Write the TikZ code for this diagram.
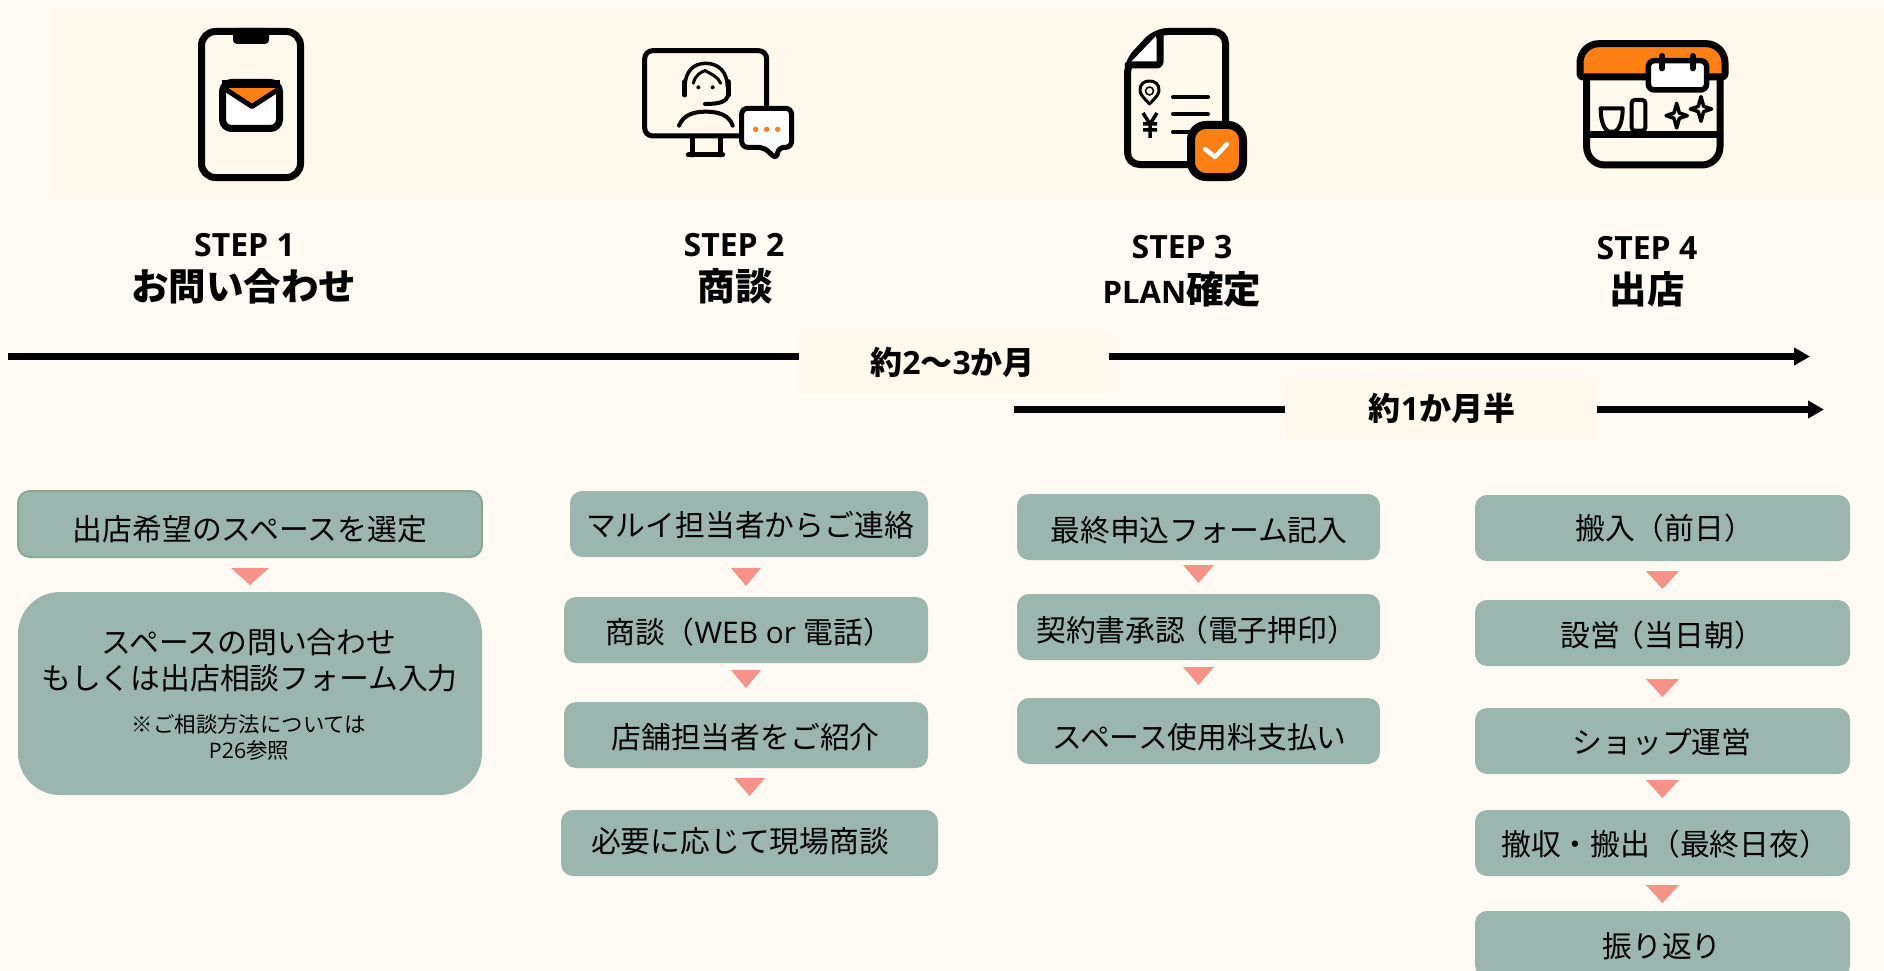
\documentclass[tikz,border=0pt]{standalone}
\usepackage{fontspec}
\setmainfont{Noto Sans CJK JP}
\newfontfamily\oss{Open Sans}
\usetikzlibrary{arrows.meta}
\definecolor{pagebg}{HTML}{FFFBF4}
\definecolor{bandbg}{HTML}{FEF8ED}
\definecolor{boxfill}{HTML}{9BB5AF}
\definecolor{boxedge}{HTML}{85AB90}
\definecolor{tricol}{HTML}{F79288}
\definecolor{orangec}{HTML}{FE8015}
\newcommand{\fs}[1]{\fontsize{#1}{#1}\selectfont}
\newcommand{\tridown}[4]{\fill[tricol] (#1,#3) -- (#2,#3) -- ({(#1+#2)/2},#4) -- cycle;}
\newcommand{\sparkle}[2]{\draw[line width=3.5pt,line join=round,draw=black]
 (#1,#2-37) -- (#1+8,#2-8) -- (#1+32,#2) -- (#1+8,#2+8) -- (#1,#2+37) -- (#1-8,#2+8) -- (#1-32,#2) -- (#1-8,#2-8) -- cycle;}
\tikzset{
 flowbox/.style={fill=boxfill,draw=none,rounded corners=12pt,inner sep=0pt},
 lab/.style={inner sep=0pt,text height=25.9pt,text depth=3.5pt,font=\fs{29.8},black},
 sm/.style={inner sep=0pt,text height=18.8pt,text depth=2.6pt,font=\fs{21.4},black},
 headlat/.style={inner sep=0pt,text height=28.2pt,text depth=3.8pt,font=\fs{32}\bfseries\oss,black},
 headjp/.style={inner sep=0pt,text height=32.6pt,text depth=4.4pt,font=\fs{37.5}\bfseries,black},
 durlab/.style={inner sep=0pt,text height=28.2pt,text depth=3.8pt,font=\fs{32}\bfseries,black},
 durbox/.style={fill=bandbg,draw=none,inner sep=0pt},
 tline/.style={line width=7pt,black},
 tarrow/.style={line width=7pt,black,-{Triangle[length=16pt,width=17pt]}},
 iconl/.style={line width=7pt,black,line cap=round,line join=round},
 mon/.style={line width=5pt,black,line cap=round,line join=round},
}
\begin{document}
\begin{tikzpicture}[x=1pt,y=-1pt]
\clip (0,0) rectangle (1884,971);
\fill[pagebg] (0,0) rectangle (1884,971);
\fill[bandbg] (51,8) rectangle (1884,195);

% ---- phone icon
\draw[iconl,rounded corners=14pt] (201.5,31.5) rectangle (300.5,177.5);
\fill[black,rounded corners=4pt] (233,28) rectangle (269,44);
\draw[iconl,fill=white,rounded corners=9pt] (222.5,82.5) rectangle (279.5,128.5);
\fill[orangec] (226,88) -- (278,88) -- (252,104) -- cycle;
\fill[black] (222,80) rectangle (280,88);
\begin{scope}
\clip (222,82) rectangle (280,125);
\draw[line width=5pt,black,line join=round] (222,87) -- (252,106.5) -- (282,87);
\end{scope}

% ---- monitor icon
\begin{scope}[shift={(630pt,-30pt)},x=0.3333pt,y=-0.3333pt]
\draw[mon,rounded corners=8pt] (44,62) rectangle (410,318);
\draw[mon] (188,320) -- (188,375) (270,320) -- (270,375);
\draw[mon] (175,375) -- (278,375);
\draw[line width=3.5pt,black,line cap=round] (165,170) .. controls (165,125) and (190,100) .. (227,100) .. controls (265,100) and (292,125) .. (292,170);
\draw[mon] (164,155) -- (164,195) (295,155) -- (295,195);
\draw[line width=4pt,black,line cap=round] (295,195) .. controls (290,215) and (270,222) .. (225,222);
\draw[line width=3pt,black,line cap=round] (190,160) .. controls (195,135) and (215,125) .. (225,122) .. controls (240,130) and (265,140) .. (272,160);
\fill[black] (205,172) circle[radius=2pt] (248,172) circle[radius=2pt];
\draw[line width=4pt,black,line cap=round] (147,287) .. controls (160,255) and (190,245) .. (228,245) .. controls (265,245) and (298,255) .. (308,287);
\draw[mon,fill=white,rounded corners=6pt] (335,235) -- (485,235) -- (485,352) -- (445,352) -- (440,388) -- (402,352) -- (335,352) -- cycle;
\fill[orangec] (377,298) circle[radius=2.7pt] (410,298) circle[radius=2.7pt] (443,298) circle[radius=2.7pt];
\end{scope}

% ---- document icon
\draw[iconl,rounded corners=12pt] (1127.5,62) -- (1156,31.5) -- (1225.5,31.5) -- (1225.5,164.5) -- (1127.5,164.5) -- cycle;
\fill[white] (1131,62) -- (1156,36) -- (1156,62) -- cycle;
\draw[iconl,rounded corners=3pt] (1160,33) -- (1160,65) -- (1128,65);
\draw[line width=3pt,black,line join=round] (1149.5,104) .. controls (1142,96) and (1140,94) .. (1140,90) .. controls (1140,84) and (1144,81) .. (1149.5,81) .. controls (1155,81) and (1159,84) .. (1159,90) .. controls (1159,94) and (1157,96) .. (1149.5,104) -- cycle;
\draw[line width=1.5pt,black] (1149.5,91) circle[radius=4pt];
\draw[line width=4pt,black,line cap=round] (1173,97) -- (1208,97) (1173,114) -- (1208,114) (1173,132) -- (1195,132);
\draw[line width=3.5pt,black] (1143,113) -- (1150,124) -- (1157,113) (1150,124) -- (1150,138) (1143,124) -- (1157,124) (1143,130) -- (1157,130);
\draw[iconl,line width=8pt,fill=orangec,rounded corners=15pt] (1191,125) rectangle (1243,177);
\draw[line width=4.5pt,white,line cap=round,line join=round] (1205,149) -- (1215,157) -- (1227,144);

% ---- shop icon
\begin{scope}[shift={(1560pt,-30pt)},x=0.3333pt,y=-0.3333pt]
\draw[iconl,rounded corners=18pt] (80,140) -- (80,405) -- (480,405) -- (480,140);
\draw[iconl] (80,315) -- (480,315);
\draw[iconl,fill=orangec] (60,141) [rounded corners=19pt] -- (60,41) -- (495,41) [rounded corners=3pt] -- (495,141) -- cycle;
\draw[line width=5.5pt,black,fill=white,rounded corners=6pt,line join=round] (265,92) rectangle (440,180);
\draw[line width=6pt,black,line cap=round] (307,78) -- (307,115) (398,78) -- (398,115);
\draw[line width=4pt,black,line join=round] (122,235) -- (188,235) .. controls (188,270) and (180,295) .. (165,305) -- (145,305) .. controls (130,295) and (122,270) .. (122,235) -- cycle;
\draw[line width=4pt,black,rounded corners=3pt] (215,210) rectangle (256,302);
\sparkle{350}{257}
\sparkle{423}{237}
\end{scope}

% ---- step headings
\node[headlat] (s1) at (244.5,244) {STEP 1};
\node[headjp] (s1j) at (243.5,286.5) {お問い合わせ};
\node[headlat] (s2) at (734,244) {STEP 2};
\node[headjp] (s2j) at (735,286.5) {商談};
\node[headlat] (s3) at (1182,246) {STEP 3};
\node[headjp] (s3j) at (1182,289.5) {{\oss\fs{31}PLAN}確定};
\node[headlat] (s4) at (1647,247) {STEP 4};
\node[headjp] (s4j) at (1647,289.5) {出店};

% ---- durations
\coordinate (d1start) at (8,356.5);
\coordinate (d1end) at (1810,356.5);
\coordinate (d2start) at (1014,409.5);
\coordinate (d2end) at (1824,409.5);
\node[durbox,minimum width=309.6pt,minimum height=60pt] (d1box) at (953.8,363) {};
\node[durlab] (d1txt) at (952.7,362) {約{\oss 2}〜{\oss 3}か月};
\node[durbox,minimum width=311.5pt,minimum height=62pt] (d2box) at (1441.3,409) {};
\node[durlab] (d2txt) at (1442,408) {約{\oss 1}か月半};
\draw[tline] (d1start) -- (d1start -| d1box.west);
\draw[tarrow] (d1end -| d1box.east) -- (d1end);
\draw[tline] (d2start) -- (d2start -| d2box.west);
\draw[tarrow] (d2end -| d2box.east) -- (d2end);

% ---- column 1
\node[flowbox,draw=boxedge,line width=2pt,minimum width=464pt,minimum height=66pt] (a1) at (250,524) {};
\node[flowbox,rounded corners=42pt,minimum width=464pt,minimum height=203pt] (a2) at (250,693.5) {};
\node[lab] (a1t) at (250,529) {出店希望のスペースを選定};
\node[lab] (a2t) at (249,642.5) {スペースの問い合わせ};
\node[lab] (a2u) at (249.5,678.5) {もしくは出店相談フォーム入力};
\node[sm] (a2v) at (249,724.5) {※ご相談方法については};
\node[sm] (a2w) at (249,750.5) {{\oss P26}参照};
\tridown{231}{269}{568}{585}

% ---- column 2
\node[flowbox,minimum width=358pt,minimum height=66pt] (b1) at (749,524) {};
\node[flowbox,minimum width=364pt,minimum height=66pt] (b2) at (746,630) {};
\node[flowbox,minimum width=364pt,minimum height=66pt] (b3) at (746,735) {};
\node[flowbox,minimum width=377pt,minimum height=66pt] (b4) at (749.5,843) {};
\node[lab] (b1t) at (750,525) {マルイ担当者からご連絡};
\node[lab,anchor=west] (b2t) at (605,632) {商談（{\oss WEB or }電話）};
\node[lab] (b3t) at (745.5,737.5) {店舗担当者をご紹介};
\node[lab] (b4t) at (740,841.5) {必要に応じて現場商談};
\tridown{731}{761}{568}{586}
\tridown{731}{761}{670}{688}
\tridown{734}{765}{778}{796}

% ---- column 3
\node[flowbox,minimum width=363pt,minimum height=66pt] (c1) at (1198.5,527) {};
\node[flowbox,minimum width=363pt,minimum height=66pt] (c2) at (1198.5,627) {};
\node[flowbox,minimum width=363pt,minimum height=66pt] (c3) at (1198.5,731) {};
\node[lab] (c1t) at (1199,530.5) {最終申込フォーム記入};
\node[lab,anchor=west] (c2t) at (1036,630.5) {契約書承認\kern-7pt（電子押印）};
\node[lab] (c3t) at (1199.5,737.5) {スペース使用料支払い};
\tridown{1183}{1214}{565}{583}
\tridown{1183}{1214}{667}{685}

% ---- column 4
\node[flowbox,minimum width=375pt,minimum height=66pt] (e1) at (1662.5,528) {};
\node[flowbox,minimum width=375pt,minimum height=66pt] (e2) at (1662.5,633) {};
\node[flowbox,minimum width=375pt,minimum height=66pt] (e3) at (1662.5,741) {};
\node[flowbox,minimum width=375pt,minimum height=66pt] (e4) at (1662.5,843) {};
\node[flowbox,minimum width=375pt,minimum height=66pt] (e5) at (1662.5,944) {};
\node[lab,anchor=west] (e1t) at (1575,528.5) {搬入（前日）};
\node[lab,anchor=west] (e2t) at (1560,635.5) {設営\kern-5pt（当日朝）};
\node[lab] (e3t) at (1662,742.5) {ショップ運営};
\node[lab,anchor=west] (e4t) at (1501,844.5) {撤収・搬出（最終日夜）};
\node[lab] (e5t) at (1662,946.5) {振り返り};
\tridown{1646}{1679}{571}{589}
\tridown{1646}{1679}{679}{697}
\tridown{1646}{1679}{780}{798}
\tridown{1646}{1679}{885}{903}
\end{tikzpicture}
\end{document}
